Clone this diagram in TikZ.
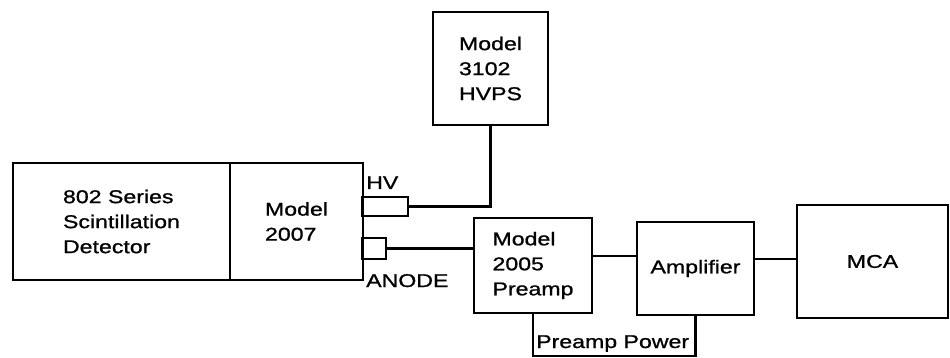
\documentclass[tikz,border=0pt]{standalone}
\usepackage{fontspec}
\setmainfont{Liberation Sans}[FakeStretch=1.25,FakeBold=1]
\begin{document}
\begin{tikzpicture}[x=1pt,y=-1pt,
  box/.style={draw, line width=2.2pt, inner sep=0pt, align=left, font=\fontsize{18.5}{25}\selectfont},
  plug/.style={draw, line width=2.2pt, inner sep=0pt},
  lbl/.style={inner sep=0pt, font=\fontsize{18.5}{21}\selectfont},
  wire/.style={line width=2.2pt}]
\useasboundingbox (0,0) rectangle (950,358);
\node[box, minimum width=217pt, minimum height=117pt] (det) at (121.5,221.5) {802 Series\\Scintillation\\Detector};
\node[box, minimum width=133pt, minimum height=117pt] (m2007) at (296.5,221.5) {Model\\2007};
\node[box, minimum width=115pt, minimum height=113pt] (hvps) at (490.5,68.5) {Model\\3102\\HVPS};
\node[plug, minimum width=46pt, minimum height=19pt] (hvplug) at (385,206.5) {};
\node[plug, minimum width=24pt, minimum height=21pt] (anplug) at (374,248.5) {};
\node[box, minimum width=118pt, minimum height=95pt] (pre) at (533,265.5) {Model\\2005\\Preamp};
\node[box, minimum width=117pt, minimum height=93pt] (amp) at (695.5,268.5) {Amplifier};
\node[box, minimum width=151pt, minimum height=113pt] (mca) at (872.5,261.5) {MCA};
\node[lbl, anchor=base west] (hvlbl) at (366,189) {HV};
\node[lbl, anchor=base west] (anlbl) at (366,287) {ANODE};
\node[lbl, anchor=base west] (pplbl) at (536,348) {Preamp Power};
\draw[wire] (hvplug.east) -| (hvps.south);
\draw[wire] (anplug.east) -- (anplug.east -| pre.west);
\draw[wire] ([yshift=9.5pt]pre.east) -- ([yshift=9.5pt]pre.east -| amp.west);
\draw[wire] ([yshift=9.5pt]amp.east) -- ([yshift=9.5pt]amp.east -| mca.west);
\draw[wire] (pre.south) -- ++(0,42) -| (amp.south);
\end{tikzpicture}
\end{document}
